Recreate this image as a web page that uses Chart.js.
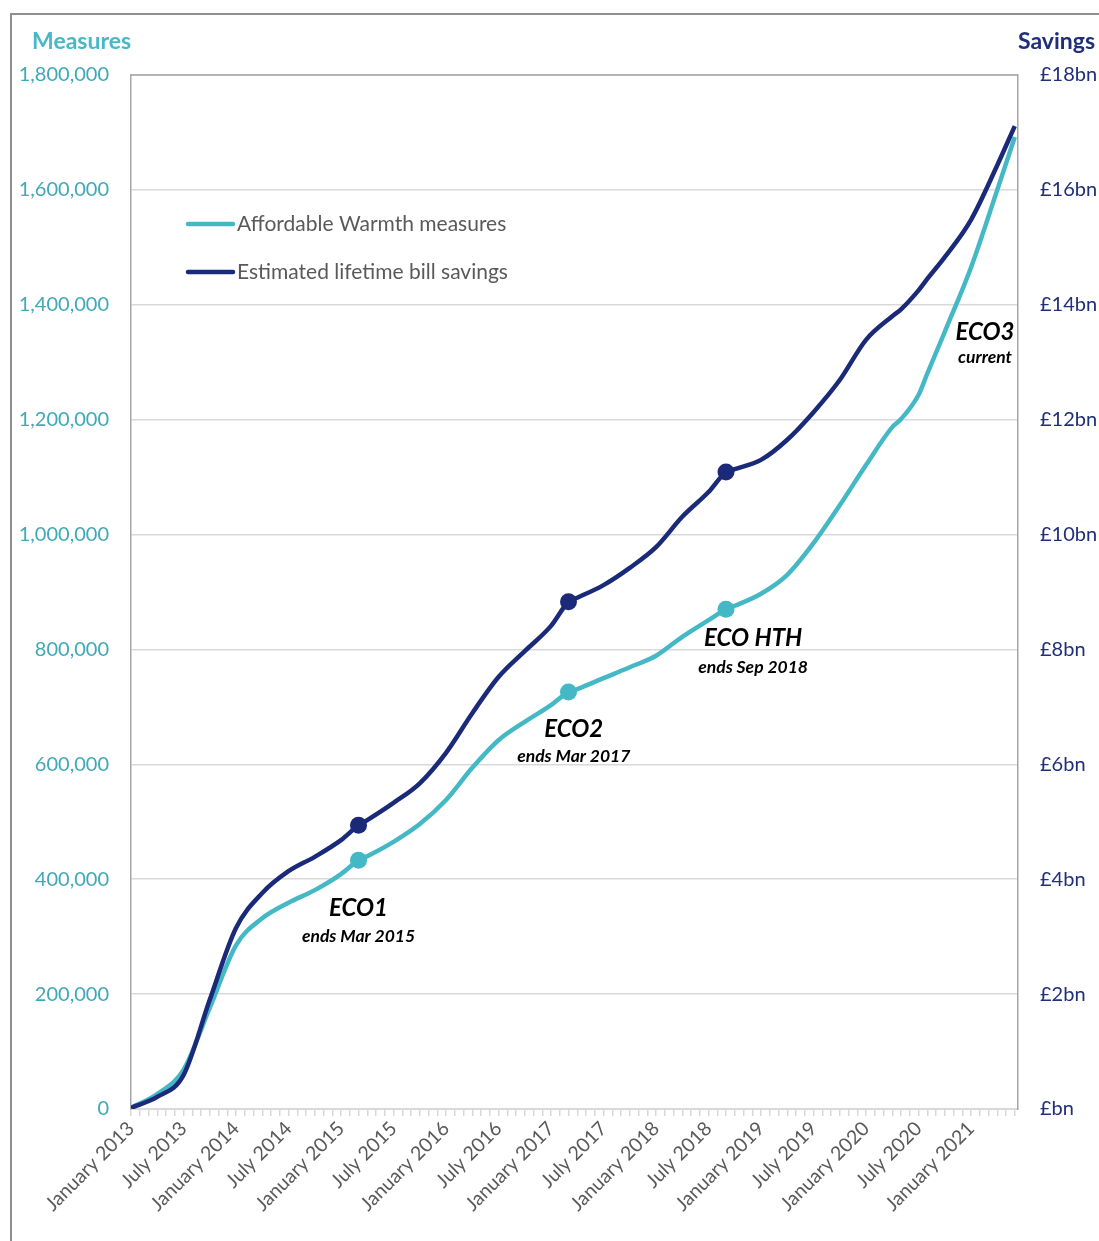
<!DOCTYPE html>
<html>
<head>
<meta charset="utf-8">
<script src="https://cdn.jsdelivr.net/npm/chart.js@4"></script>
<style>
  body { margin: 0; background: #fff; }
  #wrap { width: 1099px; height: 1241px; }
</style>
</head>
<body>
<div id="wrap"><canvas id="eco-chart" width="1099" height="1241"></canvas></div>
<script>
// months counted from January 2013 (0 = Jan 2013)
const months = [0, 3, 6, 9, 12, 15, 18, 21, 24, 26, 27, 30, 33, 36, 39, 42, 45, 48, 50, 51, 54, 57, 60, 63, 66, 68, 69, 72, 75, 78, 81, 84, 87, 88, 90, 91, 93, 96, 99, 101];

// Affordable Warmth measures (cumulative)
const measures = [2000, 26000, 68000, 176000, 285000, 332000, 359000, 381000, 409000, 433000, 440000, 465000, 496000, 538000, 594000, 642000, 674000, 703000, 726000, 731000, 750000, 769000, 789000, 822000, 851000, 870000, 876000, 897000, 930000, 985000, 1051000, 1121000, 1187000, 1201000, 1243000, 1280000, 1353000, 1465000, 1600000, 1692000];

// Estimated lifetime bill savings (£bn, cumulative)
const savings = [0.02, 0.21, 0.59, 1.90, 3.15, 3.76, 4.14, 4.39, 4.68, 4.94, 5.03, 5.33, 5.67, 6.20, 6.89, 7.52, 7.97, 8.41, 8.83, 8.90, 9.12, 9.42, 9.78, 10.31, 10.74, 11.09, 11.14, 11.30, 11.65, 12.13, 12.69, 13.39, 13.80, 13.92, 14.25, 14.45, 14.83, 15.48, 16.43, 17.11];

// scheme end points get a dot
const markerMonths = [26, 50, 68];

// one label every 6 months
const tickLabels = ['January 2013', 'July 2013', 'January 2014', 'July 2014', 'January 2015', 'July 2015', 'January 2016', 'July 2016', 'January 2017', 'July 2017', 'January 2018', 'July 2018', 'January 2019', 'July 2019', 'January 2020', 'July 2020', 'January 2021'];

const seriesNames = ['Affordable Warmth measures', 'Estimated lifetime bill savings'];

// scheme notes: [title, subtitle, month, measures value of title, measures value of subtitle]
const schemeNotes = [
  ['ECO1', 'ends Mar 2015', 26, 350000, 301000],
  ['ECO2', 'ends Mar 2017', 50.6, 661500, 614500],
  ['ECO HTH', 'ends Sep 2018', 71.1, 820000, 769500],
  ['ECO3', 'current', 97.6, 1352600, 1309000],
];

const TEAL = '#45b8c6';
const NAVY = '#1a2a78';
const FONT = 'Lato, "Open Sans", sans-serif';

const decorations = {
  id: 'decorations',
  beforeDraw(chart) {
    const { ctx } = chart;
    ctx.save();
    // outer frame
    ctx.strokeStyle = '#8f8f8f';
    ctx.lineWidth = 2;
    ctx.beginPath();
    ctx.moveTo(11, 1241);
    ctx.lineTo(11, 14);
    ctx.lineTo(1099, 14);
    ctx.stroke();
    ctx.restore();
  },
  afterDraw(chart) {
    const { ctx, chartArea, scales } = chart;
    ctx.save();
    // top border of plot area
    ctx.strokeStyle = '#a6a6a6';
    ctx.lineWidth = 1.5;
    ctx.beginPath();
    ctx.moveTo(chartArea.left, chartArea.top);
    ctx.lineTo(chartArea.right, chartArea.top);
    ctx.stroke();

    // axis titles
    ctx.font = 'bold 23px ' + FONT;
    ctx.textBaseline = 'middle';
    ctx.fillStyle = '#47b9c6';
    ctx.textAlign = 'left';
    ctx.fillText('Measures', 32, 42);
    ctx.fillStyle = '#1f2f7a';
    ctx.textAlign = 'right';
    ctx.fillText('Savings', 1095, 42);

    // legend
    const colors = [TEAL, NAVY];
    const rows = [224, 272];
    ctx.lineCap = 'round';
    ctx.lineWidth = 4.5;
    ctx.font = '21px ' + FONT;
    ctx.textAlign = 'left';
    seriesNames.forEach((name, i) => {
      ctx.strokeStyle = colors[i];
      ctx.beginPath();
      ctx.moveTo(188, rows[i]);
      ctx.lineTo(233, rows[i]);
      ctx.stroke();
      ctx.fillStyle = '#595959';
      ctx.fillText(name, 237, rows[i]);
    });

    // scheme notes
    ctx.fillStyle = '#000';
    ctx.textAlign = 'center';
    schemeNotes.forEach(([title, sub, m, v1, v2]) => {
      const x = scales.x.getPixelForValue(m);
      ctx.font = 'italic bold 24px ' + FONT;
      ctx.fillText(title, x, scales.y.getPixelForValue(v1));
      ctx.font = 'italic bold 17.5px ' + FONT;
      ctx.fillText(sub, x, scales.y.getPixelForValue(v2));
    });
    ctx.restore();
  }
};

const dotRadius = (c) => (c.raw && markerMonths.includes(c.raw.x) ? 8.5 : 0);

new Chart(document.getElementById('eco-chart'), {
  type: 'line',
  data: {
    datasets: [
      {
        label: seriesNames[1],
        data: months.map((m, i) => ({ x: m, y: savings[i] })),
        yAxisID: 'y2',
        borderColor: NAVY,
        backgroundColor: NAVY,
        borderWidth: 4.5,
        cubicInterpolationMode: 'monotone',
        pointRadius: dotRadius,
        pointBorderWidth: 0,
        order: 0,
      },
      {
        label: seriesNames[0],
        data: months.map((m, i) => ({ x: m, y: measures[i] })),
        yAxisID: 'y',
        borderColor: TEAL,
        backgroundColor: TEAL,
        borderWidth: 4.5,
        cubicInterpolationMode: 'monotone',
        pointRadius: dotRadius,
        pointBorderWidth: 0,
        order: 1,
      },
    ],
  },
  options: {
    responsive: false,
    animation: false,
    events: [],
    layout: { padding: { top: 75, left: 0, right: 0, bottom: 0 } },
    plugins: { legend: { display: false }, tooltip: { enabled: false } },
    scales: {
      x: {
        type: 'linear',
        min: 0,
        max: 101.37,
        afterFit: (s) => { s.height = 132; },
        grid: { drawOnChartArea: false, drawTicks: true, tickLength: 7, color: '#d9d9d9', lineWidth: 1.5 },
        border: { color: '#d9d9d9', width: 2 },
        ticks: {
          stepSize: 1,
          autoSkip: false,
          includeBounds: false,
          minRotation: 45,
          maxRotation: 45,
          padding: 1,
          color: '#595959',
          font: { family: FONT, size: 19.5 },
          callback: (v) => (v % 6 === 0 ? (tickLabels[v / 6] || '') : ''),
        },
      },
      y: {
        position: 'left',
        min: 0,
        max: 1800000,
        afterFit: (s) => { s.width = 131; },
        grid: { color: '#d9d9d9', lineWidth: 1.5, drawTicks: false },
        border: { color: '#a6a6a6', width: 1.5 },
        ticks: {
          stepSize: 200000,
          padding: 22,
          color: '#3fa9b6',
          font: { family: FONT, size: 20 },
          callback: (v) => v.toLocaleString('en-GB'),
        },
      },
      y2: {
        position: 'right',
        min: 0,
        max: 18,
        afterFit: (s) => { s.width = 81; },
        grid: { drawOnChartArea: false, drawTicks: false },
        border: { color: '#a6a6a6', width: 1.5 },
        ticks: {
          stepSize: 2,
          padding: 22,
          color: '#1f2f7a',
          font: { family: FONT, size: 20 },
          callback: (v) => '£' + (v === 0 ? '' : v) + 'bn',
        },
      },
    },
  },
  plugins: [decorations],
});
</script>
</body>
</html>
